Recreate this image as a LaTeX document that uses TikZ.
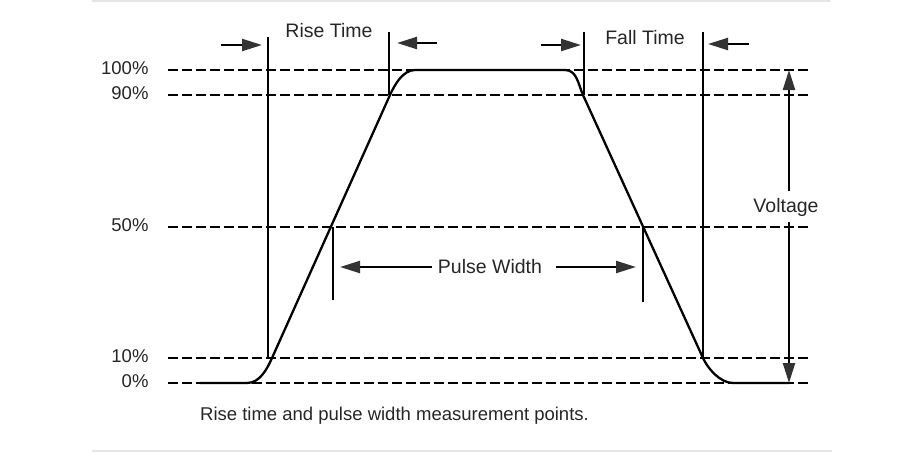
\documentclass[tikz,border=0pt]{standalone}
\usepackage{fontspec}
\setmainfont{Liberation Sans}
\usetikzlibrary{arrows.meta}

\begin{document}
\begin{tikzpicture}[x=1pt,y=-1pt,
	every node/.style={font=\fontsize{18.5}{22}\selectfont, text=black!85},
	tag/.style={font=\fontsize{19.5}{23}\selectfont, anchor=base},
	level/.style={line width=2.3pt, dash pattern=on 9.5pt off 4.5pt},
	wave/.style={line width=2.3pt},
	vline/.style={line width=2.3pt},
	arr/.style={line width=2.3pt, -{Triangle[length=20pt,width=12pt,color=black!80]}},
	frame/.style={line width=2pt, black!10}]
	\useasboundingbox (0,0) rectangle (922,453);
	\draw[frame] (92,1) -- (830,1);
	\draw[frame] (92,451) -- (832,451);
	% reference levels
	\foreach \p/\y in {100/70, 90/95, 50/227, 10/358, 0/383} {
		\node[anchor=base east] (l\p) at (152,\y+4) {\p\%};
		\coordinate (s\p) at (168,\y);
		\coordinate (e\p) at (812,\y);
		\draw[level] (s\p) -- (e\p);
	}
	% the pulse
	\draw[wave] (200,383) -- (247,383) .. controls (260,383) and (267.3,368.5) .. (272,358)
		-- (390,95) .. controls (394.7,84.5) and (403,70) .. (415,70) -- (565,70)
		.. controls (577,70) and (578.3,84.5) .. (583,95) -- (703,358)
		.. controls (707.8,368.5) and (720,383) .. (733,383) -- (789,383);
	% measurement points
	\coordinate (r1t) at (268,37);  \coordinate (r1b) at (268,358);
	\coordinate (r2t) at (389,32);  \coordinate (r2b) at (389,95);
	\coordinate (f1t) at (584,32);  \coordinate (f1b) at (584,95);
	\coordinate (f2t) at (703,32);  \coordinate (f2b) at (703,358);
	\coordinate (p1t) at (333,227); \coordinate (p1b) at (333,300);
	\coordinate (p2t) at (643,227); \coordinate (p2b) at (643,302);
	\foreach \a/\b in {r1t/r1b, r2t/r2b, f1t/f1b, f2t/f2b, p1t/p1b, p2t/p2b}
		\draw[vline] (\a) -- (\b);
	\node[tag] (rise) at (329,37) {Rise Time};
	\node[tag] (fall) at (645,44) {Fall Time};
	\node[tag] (pw) at (490,273) {Pulse Width};
	\node[tag, inner ysep=7pt] (volt) at (786,212) {Voltage};
	\node[anchor=base west, inner sep=0pt] (cap) at (200,420) {Rise time and pulse width measurement points.};
	\coordinate (ra1) at (221,45); \coordinate (ra2) at (262,45);
	\coordinate (rb1) at (437,43); \coordinate (rb2) at (397,43);
	\coordinate (fa1) at (541,45); \coordinate (fa2) at (581,45);
	\coordinate (fb1) at (749,44); \coordinate (fb2) at (708,44);
	\coordinate (pa1) at (432,267); \coordinate (pa2) at (340,267);
	\coordinate (pb1) at (556,267); \coordinate (pb2) at (636,267);
	\coordinate (vt) at (789,70); \coordinate (vb) at (789,383);
	\coordinate (va) at (789,191); \coordinate (vc) at (789,222);
	\foreach \a/\b in {ra1/ra2, rb1/rb2, fa1/fa2, fb1/fb2, pa1/pa2, pb1/pb2, va/vt, vc/vb}
		\draw[arr] (\a) -- (\b);
\end{tikzpicture}
\end{document}
